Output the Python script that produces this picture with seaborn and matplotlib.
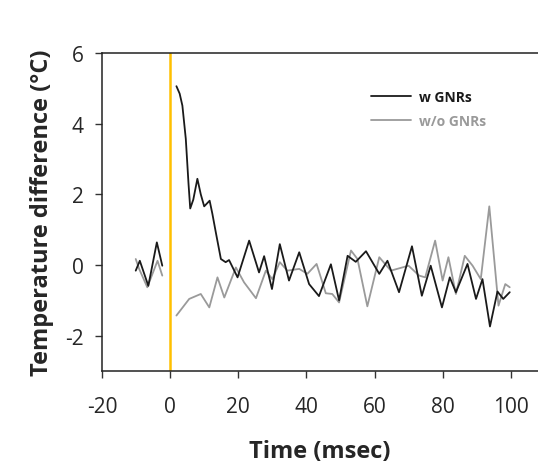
import matplotlib
matplotlib.use("Agg")
import matplotlib.pyplot as plt
import seaborn as sns
import pandas as pd

# ---- data ----
t_w_pre = [-10.1, -8.9, -6.4, -3.9, -2.3]
v_w_pre = [-0.16, 0.12, -0.59, 0.64, -0.02]
t_wo_pre = [-10.1, -9.1, -6.7, -3.7, -2.3]
v_wo_pre = [0.17, -0.11, -0.63, 0.12, -0.30]

t_w = [1.85, 2.8, 3.6, 4.6, 5.4, 5.9, 6.8, 8.0, 9.0, 10.0, 11.6, 12.4, 13.4, 14.9, 16.3, 17.3, 19.8,
       23.2, 26.1, 27.6, 29.9, 32.2, 34.9, 37.9, 40.8, 43.7, 47.2, 49.6, 52.1, 54.5, 57.5, 61.4,
       63.8, 67.2, 71.0, 73.9, 76.5, 79.8, 82.1, 83.9, 87.3, 89.8, 91.7, 93.9, 96.1, 97.8, 99.7]
v_w = [5.06, 4.85, 4.51, 3.57, 2.3, 1.60, 1.85, 2.44, 2.0, 1.66, 1.82, 1.45, 0.93, 0.17, 0.08, 0.14,
       -0.35, 0.69, -0.21, 0.25, -0.68, 0.59, -0.44, 0.36, -0.54, -0.88, 0.02, -1.0, 0.26, 0.09,
       0.39, -0.25, 0.12, -0.77, 0.53, -0.87, -0.02, -1.20, -0.35, -0.77, 0.03, -0.96, -0.40,
       -1.74, -0.75, -0.96, -0.77]

t_wo = [1.85, 5.6, 9.0, 11.5, 13.9, 15.9, 19.3, 21.7, 25.2, 28.1, 30.0, 32.2, 34.4, 37.9, 40.3,
        43.0, 45.7, 47.6, 49.6, 53.1, 55.0, 57.9, 61.4, 64.8, 70.0, 73.1, 74.9, 77.8, 80.0,
        81.7, 83.9, 86.5, 88.8, 91.2, 93.7, 96.4, 98.4, 99.7]
v_wo = [-1.43, -0.96, -0.82, -1.20, -0.35, -0.92, -0.07, -0.49, -0.94, -0.16, -0.40, 0.08, -0.16,
        -0.11, -0.25, 0.03, -0.80, -0.82, -1.06, 0.41, 0.17, -1.17, 0.22, -0.16, -0.02, -0.30,
        -0.35, 0.69, -0.44, 0.22, -0.82, 0.26, -0.02, -0.40, 1.66, -1.15, -0.54, -0.63]

x_ticks = [-20, 0, 20, 40, 60, 80, 100]
y_ticks = [-2, 0, 2, 4, 6]
labels = ["w GNRs", "w/o GNRs"]

sns.set_style("ticks")
plt.rcParams["font.family"] = ["Open Sans", "DejaVu Sans"]

fig = plt.figure(figsize=(5.38, 4.64), dpi=100)
ax = fig.add_axes([102 / 538, 1 - 372 / 464, 1 - 102 / 538, (372 - 54) / 464])

BLACK = "#1a1a1a"
GRAY = "#9a9a9a"

ax.axvline(0, color="#FFC000", lw=1.8, zorder=1)

sns.lineplot(x=t_wo_pre, y=v_wo_pre, ax=ax, color=GRAY, lw=1.3, sort=False, estimator=None)
sns.lineplot(x=t_w_pre, y=v_w_pre, ax=ax, color=BLACK, lw=1.3, sort=False, estimator=None)
sns.lineplot(x=t_wo, y=v_wo, ax=ax, color=GRAY, lw=1.3, sort=False, estimator=None, label=labels[1])
sns.lineplot(x=t_w, y=v_w, ax=ax, color=BLACK, lw=1.3, sort=False, estimator=None, label=labels[0])
for ln in ax.get_lines():
    ln.set_solid_joinstyle("round")

ax.set_xlim(-20, 108)
ax.set_ylim(-3, 6)
ax.set_xticks(x_ticks)
ax.set_yticks(y_ticks)
ax.set_xticklabels([str(v) for v in x_ticks])
ax.set_yticklabels([str(v) for v in y_ticks])
ax.tick_params(axis="both", labelsize=15, length=5, width=1, color="#333333", direction="out")
ax.tick_params(axis="x", pad=13)
ax.tick_params(axis="y", pad=8)

for s in ["left", "bottom", "top"]:
    ax.spines[s].set_color("#222222")
    ax.spines[s].set_linewidth(1.1)
ax.spines["right"].set_visible(False)
ax.spines["top"].set_visible(True)

ax.set_xlabel("Time (msec)", fontsize=17, fontweight="bold", labelpad=16)
ax.set_ylabel("Temperature difference (\u00b0C)", fontsize=17, fontweight="bold", labelpad=8)

h, l = ax.get_legend_handles_labels()
order = [l.index(labels[0]), l.index(labels[1])]
leg = ax.legend([h[i] for i in order], [l[i] for i in order], frameon=False,
                loc="upper left", bbox_to_anchor=(358 / 538, 1 - 78 / 464),
                bbox_transform=fig.transFigure, handlelength=2.9, handletextpad=0.6,
                labelspacing=0.75, prop={"weight": "bold", "size": 10})
for txt, c in zip(leg.get_texts(), [BLACK, GRAY]):
    txt.set_color(c)

fig.savefig("out.png", dpi=100)
